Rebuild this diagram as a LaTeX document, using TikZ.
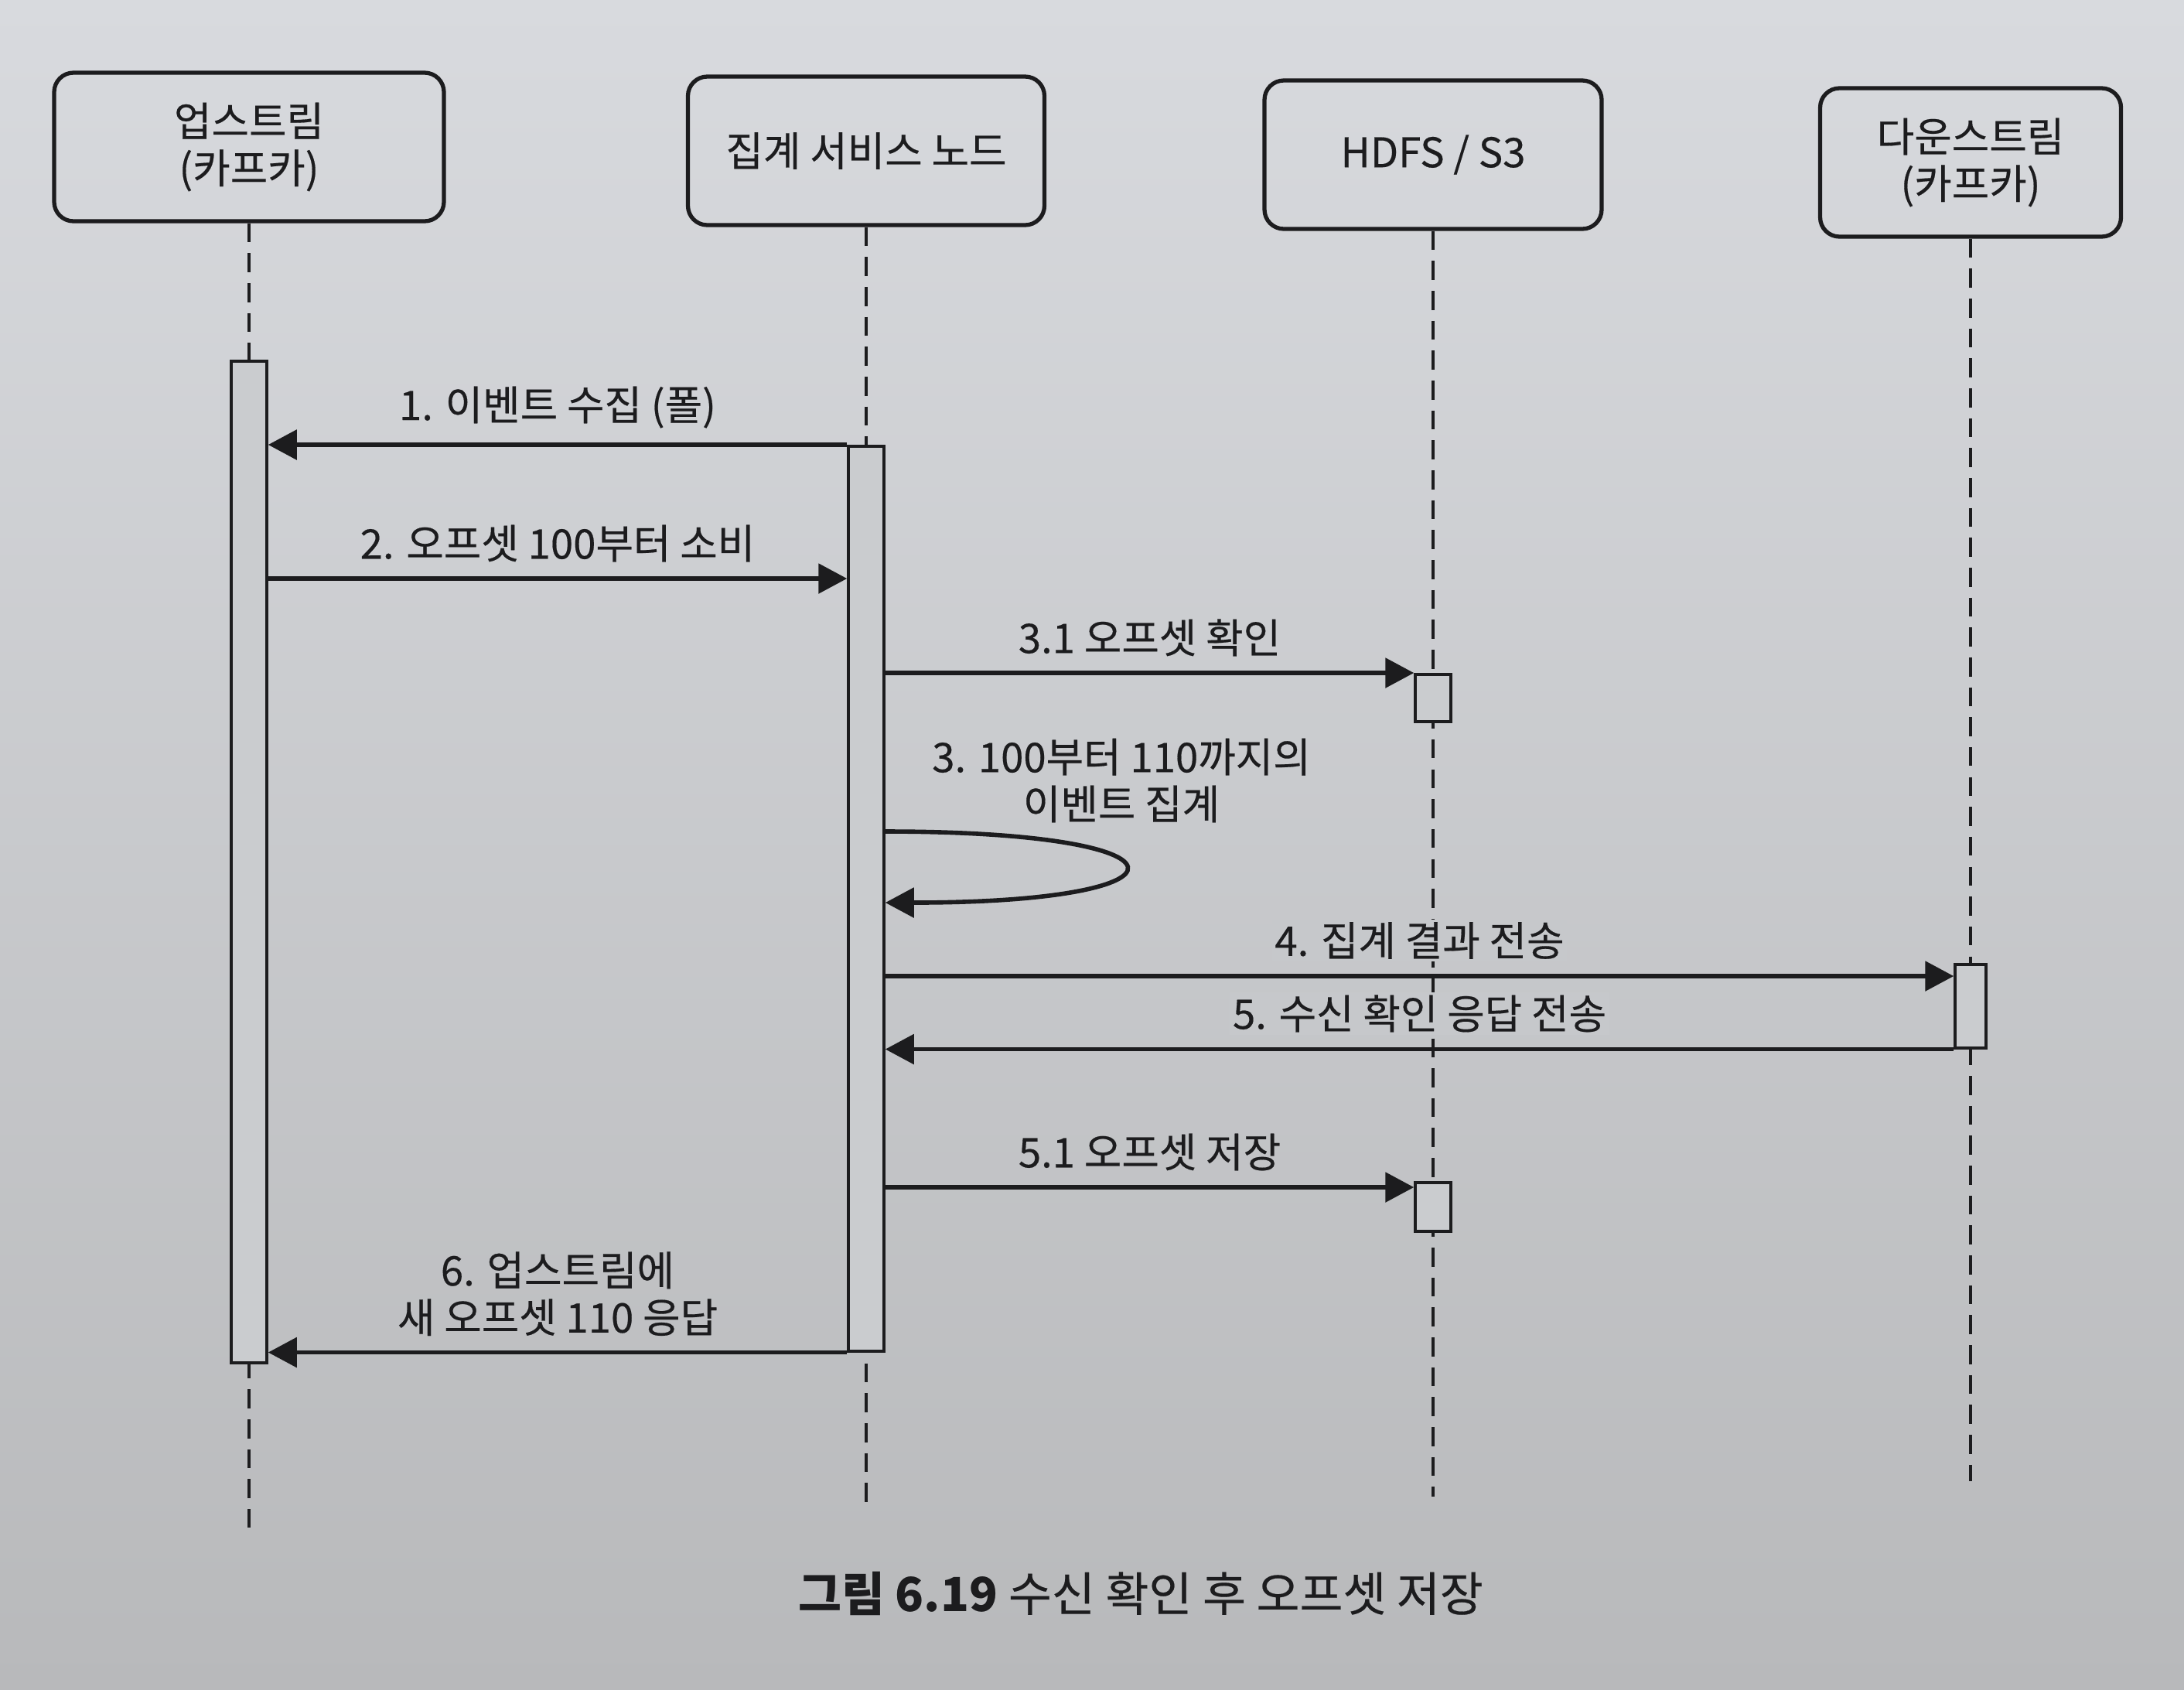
\documentclass[tikz,border=0pt]{standalone}
\usepackage{fontspec}
\setmainfont{Noto Sans CJK KR}[UprightFeatures={FakeBold=0.35}]
\usetikzlibrary{arrows.meta}
\definecolor{ink}{RGB}{28,28,30}
\definecolor{pagetop}{RGB}{216,218,222}
\definecolor{pagebot}{RGB}{184,185,187}
\definecolor{pagemid}{RGB}{198,200,203}
\definecolor{barfill}{RGB}{202,204,207}
\begin{document}
\begin{tikzpicture}[
		actor/.style={draw=ink, line width=1.5pt, rounded corners=0.25cm, minimum height=1.92cm, align=center, text=ink},
		life/.style={draw=ink, line width=1pt, dash pattern=on 7pt off 4pt},
		bar/.style={draw=ink, fill=barfill, line width=1pt, minimum width=0.46cm, inner sep=0pt, anchor=north},
		msg/.style={draw=ink, line width=1.6pt, -{Triangle[length=0.37cm,width=0.38cm]}},
		lbl/.style={text=ink, above=2pt, align=center},
		lblmask/.style={lbl, fill=pagemid, inner sep=1pt, above=2.5pt},
		font=\fontsize{15pt}{17.3pt}\selectfont
	]
			\shade[top color=pagetop, bottom color=pagebot] (0,0) rectangle (28.24,-21.84);
			\useasboundingbox (0,0) rectangle (28.24,-21.84);
			
			% participants
			\node[actor, minimum width=5.04cm] (up) at (3.22,-1.9) {업스트림\\(카프카)};
			\node[actor, minimum width=4.61cm] (agg) at (11.2,-1.95) {집계 서비스 노드};
			\node[actor, minimum width=4.36cm] (hdfs) at (18.53,-2.0) {HDFS / S3};
			\node[actor, minimum width=3.89cm] (down) at (25.48,-2.1) {다운스트림\\(카프카)};
			
			% lifelines
			\coordinate (upend) at (3.22,-19.75);
			\coordinate (aggend) at (11.2,-19.55);
			\coordinate (hdfsend) at (18.53,-19.35);
			\coordinate (downend) at (25.48,-19.15);
			\draw[life] (up) -- (upend);
			\draw[life] (agg) -- (aggend);
			\draw[life] (hdfs) -- (hdfsend);
			\draw[life] (down) -- (downend);
			
			% activation bars
			\node[bar, minimum height=12.95cm] (upbar) at (3.22,-4.65) {};
			\node[bar, minimum height=11.70cm] (aggbar) at (11.2,-5.75) {};
			\node[bar, minimum height=0.61cm] (hdfsbar1) at (18.53,-8.70) {};
			\node[bar, minimum height=0.63cm] (hdfsbar2) at (18.53,-15.27) {};
			\node[bar, minimum width=0.40cm, minimum height=1.08cm] (downbar) at (25.48,-12.45) {};
			
			% messages
			\draw[msg] (aggbar.north west) -- (upbar.east |- aggbar.north) node[lbl, midway] {1. 이벤트 수집 (폴)};
			\draw[msg] (upbar.east |- 0,-7.48) -- (aggbar.west |- 0,-7.48) node[lbl, midway] {2. 오프셋 100부터 소비};
			\draw[msg] (aggbar.east |- hdfsbar1.north) -- (hdfsbar1.north west) node[lbl, midway] {3.1 오프셋 확인};
			\draw[msg] (aggbar.east |- 0,-10.75) .. controls (15.57,-10.75) and (15.57,-11.67) .. (aggbar.east |- 0,-11.67);
			\node[text=ink, align=center] (selflbl) at (14.5,-10.09) {3. 100부터 110까지의\\이벤트 집계};
			\draw[msg] (aggbar.east |- 0,-12.62) -- (downbar.west |- 0,-12.62) node[lblmask, midway] {4. 집계 결과 전송};
			\draw[msg] (downbar.south west) -- (aggbar.east |- downbar.south) node[lblmask, midway] {5. 수신 확인 응답 전송};
			\draw[msg] (aggbar.east |- 0,-15.35) -- (hdfsbar2.west |- 0,-15.35) node[lbl, midway] {5.1 오프셋 저장};
			\draw[msg] (aggbar.south west) -- (upbar.east |- aggbar.south) node[lbl, midway] {6. 업스트림에\\새 오프셋 110 응답};
			
			% caption
			\node[text=ink, font=\fontsize{17.3pt}{20pt}\selectfont] (caption) at (14.75,-20.6) {\textbf{그림 6.19} 수신 확인 후 오프셋 저장};
\end{tikzpicture}
\end{document}
